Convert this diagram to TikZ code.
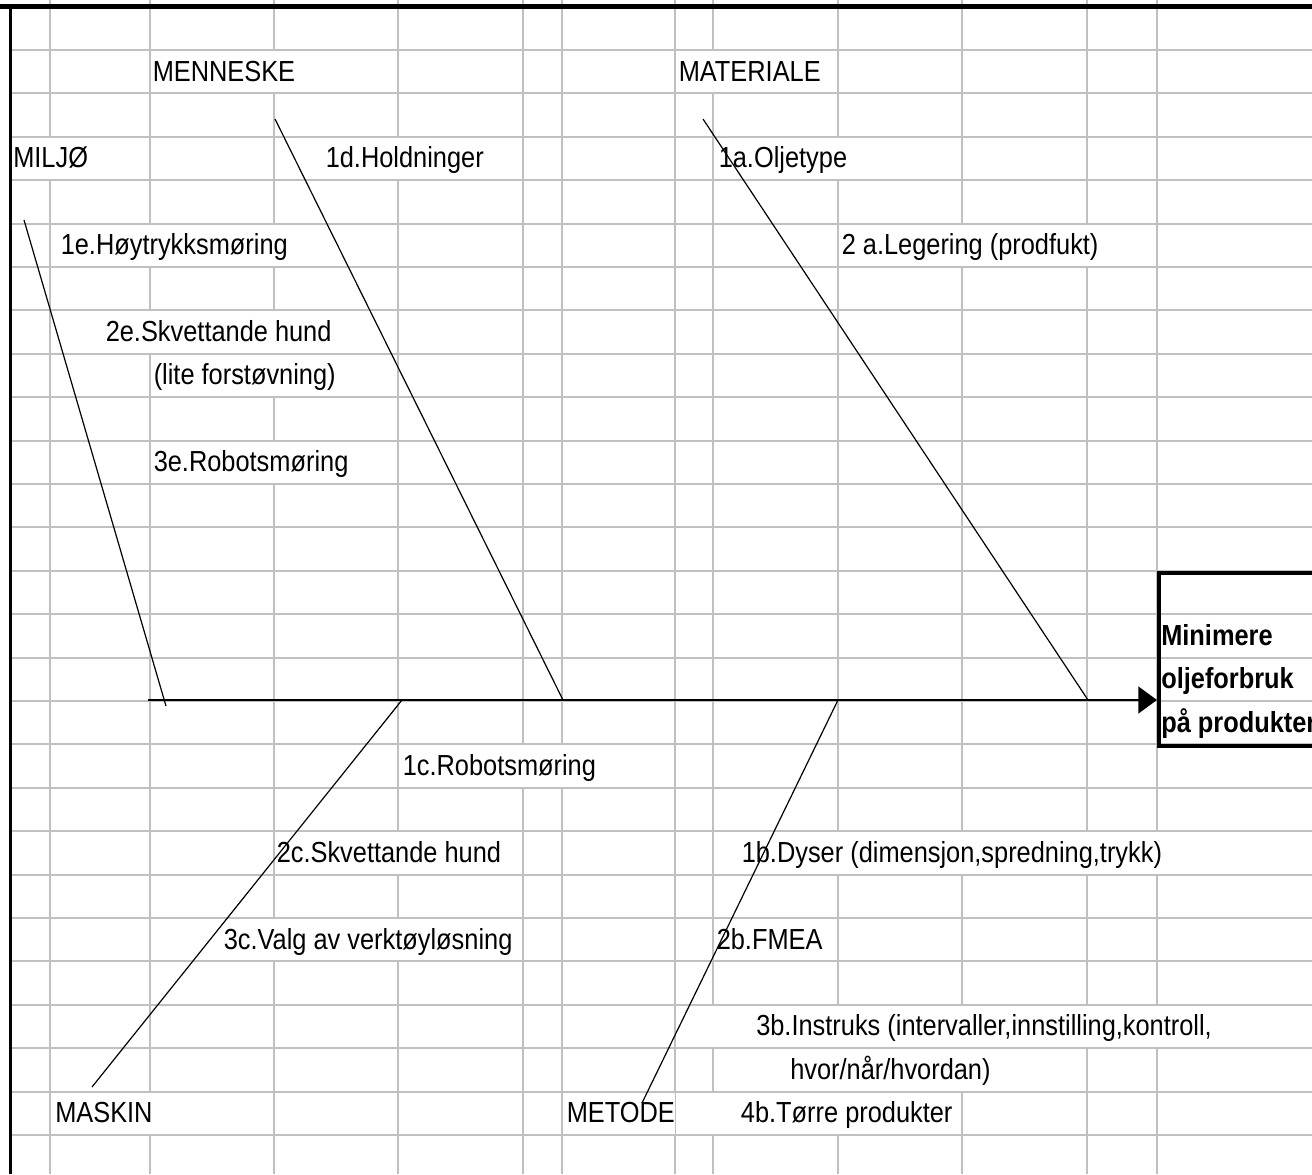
\documentclass[tikz,border=0pt]{standalone}
\usepackage{fontspec}
\setmainfont{Liberation Sans}[FakeStretch=0.875]
\usepackage{xcolor}
\usetikzlibrary{arrows.meta}
\definecolor{sheetgray}{HTML}{C0C0C0}

\begin{document}
\begin{tikzpicture}[
x=0.75pt, y=-0.75pt,
grid line/.style = {draw=sheetgray, line width=1.6pt},
cell label/.style = {anchor=base west, inner sep=0pt, fill=white,
  text height=22.5pt, text depth=8.55pt,
  font=\fontsize{21.75pt}{26pt}\selectfont},
goal label/.style = {cell label, fill=none,
  font=\fontsize{21.75pt}{26pt}\selectfont\bfseries},
goal box/.style = {draw, line width=3pt, anchor=north west, inner sep=0pt,
  minimum width=150pt, minimum height=130.2pt},
bone/.style = {line width=0.9pt},
spine/.style = {line width=1.9pt, -{Triangle[length=14pt,width=20pt]}}
]
\useasboundingbox (0,0) rectangle (1312,1174);

% sheet grid
\foreach \x in {50,150,274,398,523,562,675,713,838,962,1087,1157}
  \draw[grid line] (\x,0) -- (\x,1174);
\foreach \k in {0,...,25}
  \draw[grid line] (10,{50+43.4*\k}) -- (1312,{50+43.4*\k});

\draw[line width=3.75pt] (0,6.6) -- (1312,6.6);
\draw[line width=1.9pt] (10.5,6.6) -- (10.5,1174);

% main causes
\node (menneske) at (152.5,81) [cell label] {MENNESKE};
\node (materiale) at (678.5,81) [cell label] {MATERIALE};
\node (miljo) at (13,167.8) [cell label] {MILJØ};
\node (maskin) at (55,1122.6) [cell label] {MASKIN};
\node (metode) at (566.5,1122.6) [cell label] {METODE};

% sub causes
\node (d1) at (325.5,167.8) [cell label] {1d.Holdninger};
\node (a1) at (718.5,167.8) [cell label] {1a.Oljetype};
\node (e1) at (60.5,254.6) [cell label] {1e.Høytrykksmøring};
\node (a2) at (841.5,254.6) [cell label] {2 a.Legering (prodfukt)};
\node (e2) at (105.5,341.4) [cell label] {2e.Skvettande hund};
\node (e2b) at (153.5,384.8) [cell label] {(lite forstøvning)};
\node (e3) at (153.5,471.6) [cell label] {3e.Robotsmøring};

\node (c1) at (402.5,775.4) [cell label] {1c.Robotsmøring};
\node (c2) at (276.5,862.2) [cell label] {2c.Skvettande hund};
\node (b1) at (741.5,862.2) [cell label] {1b.Dyser (dimensjon,spredning,trykk)};
\node (c3) at (223.5,949) [cell label] {3c.Valg av verktøyløsning};
\node (b2) at (716.5,949) [cell label] {2b.FMEA};
\node (b3) at (700,1035.8) [cell label] {\hspace*{42pt}3b.Instruks (intervaller,innstilling,kontroll,};
\node (b3b) at (790,1079.2) [cell label] {hvor/når/hvordan)};
\node (b4) at (700,1122.6) [cell label] {\hspace*{30.5pt}4b.Tørre produkter};

% effect
\node (goal) at (1157,570.8) [goal box] {};
\node (g1) at (1161,645.2) [goal label] {Minimere};
\node (g2) at (1161,688.6) [goal label] {oljeforbruk};
\node (g3) at (1161,732) [goal label] {på produkter};

% spine and bones
\coordinate (tail) at (148,700);
\draw[spine] (tail) -- (tail -| goal.west);

\coordinate (miljo top) at (24,220);
\coordinate (miljo foot) at (166,706);
\coordinate (menneske top) at (275,119);
\coordinate (menneske foot) at (563,700);
\coordinate (materiale top) at (703,119);
\coordinate (materiale foot) at (1088,700);
\coordinate (maskin end) at (92,1087);
\coordinate (maskin foot) at (402,700);
\coordinate (metode end) at (642,1103);
\coordinate (metode foot) at (838,700);

\draw[bone] (miljo top) -- (miljo foot);
\draw[bone] (menneske top) -- (menneske foot);
\draw[bone] (materiale top) -- (materiale foot);
\draw[bone] (maskin end) -- (maskin foot);
\draw[bone] (metode end) -- (metode foot);
\end{tikzpicture}
\end{document}
